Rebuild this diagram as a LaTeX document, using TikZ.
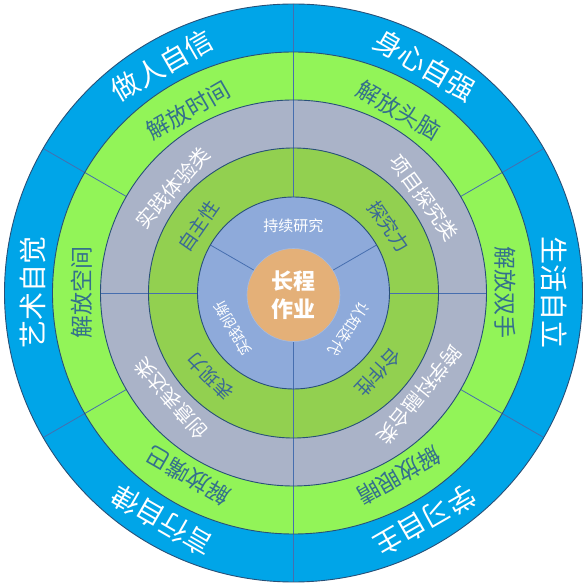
\documentclass[tikz,border=0pt]{standalone}
\usepackage{fontspec}
\newfontfamily\cjk{Noto Sans CJK SC}
\usetikzlibrary{positioning}
\definecolor{outerblue}{RGB}{0,165,232}
\definecolor{lightgreen}{RGB}{146,244,88}
\definecolor{slate}{RGB}{170,179,200}
\definecolor{leafgreen}{RGB}{146,208,80}
\definecolor{innerblue}{RGB}{142,170,218}
\definecolor{hubtan}{RGB}{228,176,120}
\definecolor{rimline}{RGB}{40,80,120}
\definecolor{spokeline}{RGB}{70,110,175}
\definecolor{tealtext}{RGB}{52,112,140}
\definecolor{steeltext}{RGB}{58,104,150}
\tikzset{
  rim/.style={draw=rimline, line width=0.9pt},
  spoke/.style={draw=spokeline, line width=0.8pt},
  outerlabel/.style={
    inner sep=0pt,
    text=white,
    font=\cjk\fontsize{28}{30}\selectfont
  },
  freelabel/.style={
    inner sep=0pt,
    text=tealtext,
    font=\cjk\fontsize{23}{25}\selectfont
  },
  typelabel/.style={
    inner sep=0pt,
    text=white,
    font=\cjk\fontsize{20}{22}\selectfont
  },
  skilllabel/.style={
    inner sep=0pt,
    text=steeltext,
    font=\cjk\fontsize{19}{21}\selectfont
  },
  corelabel/.style={
    inner sep=0pt,
    text=white,
    font=\cjk\fontsize{15}{17}\selectfont
  },
  hub/.style={
    circle,
    fill=hubtan,
    draw=innerblue!80!white,
    line width=0.6pt,
    minimum size=93pt,
    align=center,
    text=white,
    font=\cjk\bfseries\fontsize{22}{28}\selectfont
  }
}

\begin{document}
\begin{tikzpicture}[x=1pt, y=1pt]
        \useasboundingbox (-293.5,-293) rectangle (293.5,293);

        % rings, from the outside in
        \fill[outerblue] (0,0) circle (289);
        \fill[lightgreen] (0,0) circle (241);
        \fill[slate] (0,0) circle (193);
        \fill[leafgreen] (0,0) circle (145);
        \fill[innerblue] (0,0) circle (96);

        % spokes
        \foreach \a in {30,90,150,210,270,330}
          \draw[spoke] (\a:193) -- (\a:289);
        \foreach \a in {0,90,180,270}
          \draw[spoke] (\a:96) -- (\a:193);
        \foreach \a in {30,150,270}
          \draw[spoke] (\a:45) -- (\a:96);

        % ring outlines
        \foreach \r in {96,145,193,241,289}
          \draw[rim] (0,0) circle (\r);

        % outer ring
        \node[outerlabel, rotate=30] (zuoren) at (120:263) {做人自信};
        \node[outerlabel, rotate=-30] (shenxin) at (60:263) {身心自强};
        \node[outerlabel, rotate=-90] (shenghuo) at (0:261) {生活自立};
        \node[outerlabel, rotate=-150] (xuexi) at (-60:263) {学习自主};
        \node[outerlabel, rotate=150] (yanxing) at (-120:263) {言行自律};
        \node[outerlabel, rotate=90] (yishu) at (180:261) {艺术自觉};

        % second ring
        \node[freelabel, rotate=30] (shijian) at (120:211) {解放时间};
        \node[freelabel, rotate=-30] (tounao) at (60:211) {解放头脑};
        \node[freelabel, rotate=-90] (shuangshou) at (0:212) {解放双手};
        \node[freelabel, rotate=-150] (yanjing) at (-60:211) {解放眼睛};
        \node[freelabel, rotate=150] (zuiba) at (-120:211) {解放嘴巴};
        \node[freelabel, rotate=90] (kongjian) at (180:212) {解放空间};

        % third ring
        \node[typelabel, rotate=49] (tiyan) at (139:160) {实践体验类};
        \node[typelabel, rotate=-54] (tanjiu) at (36:162) {项目探究类};
        \node[typelabel, rotate=-129] (ronghe) at (-39:162) {跨学科融合类};
        \node[typelabel, rotate=131] (biaoda) at (-139:162) {创意表达类};

        % fourth ring
        \node[skilllabel, rotate=55] (zizhu) at (145:116) {自主性};
        \node[skilllabel, rotate=-55] (tanjiuli) at (35:116) {探究力};
        \node[skilllabel, rotate=-133] (hezuo) at (-43:116) {合作性};
        \node[skilllabel, rotate=135] (biaoxian) at (-135:118) {表现力};

        % inner ring
        \node[corelabel] (chixu) at (90:67) {持续研究};
        \node[corelabel, rotate=-123] (renzhi) at (-33:66) {认知迭代};
        \node[corelabel, rotate=120] (chuangxin) at (210:70) {实践创新};

        \node[hub] (changcheng) at (0,-2) {长程\\作业};
      \end{tikzpicture}
\end{document}
